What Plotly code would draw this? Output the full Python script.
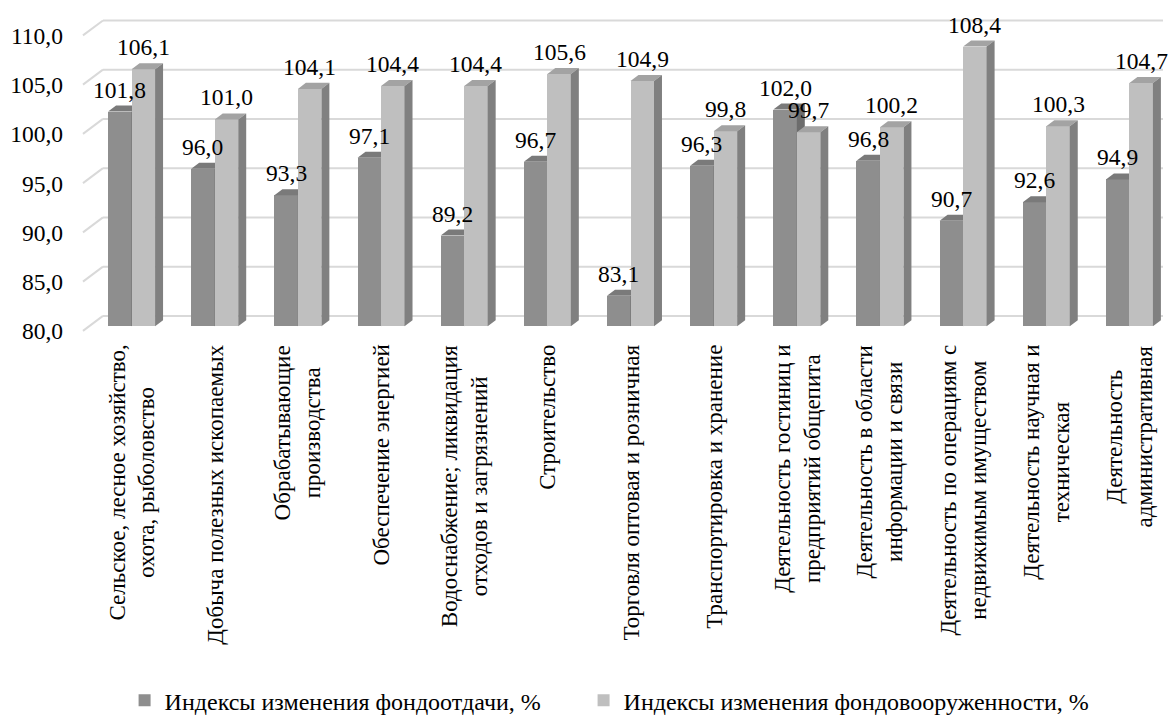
import plotly.graph_objects as go

categories = [
    ["Сельское, лесное хозяйство,", "охота, рыболовство"],
    ["Добыча полезных ископаемых"],
    ["Обрабатывающие", "производства"],
    ["Обеспечение энергией"],
    ["Водоснабжение; ликвидация", "отходов и загрязнений"],
    ["Строительство"],
    ["Торговля оптовая и розничная"],
    ["Транспортировка и хранение"],
    ["Деятельность гостиниц и", "предприятий общепита"],
    ["Деятельность в области", "информации и связи"],
    ["Деятельность по операциям с", "недвижимым имуществом"],
    ["Деятельность научная и", "техническая"],
    ["Деятельность", "административная"],
]
fondootdacha = [101.8, 96.0, 93.3, 97.1, 89.2, 96.7, 83.1, 96.3, 102.0, 96.8, 90.7, 92.6, 94.9]
fondovooruzh = [106.1, 101.0, 104.1, 104.4, 104.4, 105.6, 104.9, 99.8, 99.7, 100.2, 108.4, 100.3, 104.7]
series_names = ["Индексы изменения фондоотдачи, %", "Индексы изменения фондовооруженности, %"]
yticks = [80, 85, 90, 95, 100, 105, 110]

FONT = "Liberation Serif"
BASE = 80
W = 0.2826            # ширина передней грани столбца
DX, DY = 0.096, 0.61  # "глубина" для псевдо-3D

fig = go.Figure()
annotations = []


def add_series(vals, offset, name, front, top, side, xa, ya, lg):
    xs = list(range(len(vals)))
    fig.add_trace(go.Bar(x=xs, y=[v - BASE for v in vals], base=BASE, width=W, offset=offset,
                         marker=dict(color=front, line=dict(width=0)), name=name, legend=lg,
                         xaxis=xa, yaxis=ya, hoverinfo="skip"))
    tx, ty, sx, sy = [], [], [], []
    for i, v in zip(xs, vals):
        xl = i + offset
        xr = xl + W
        tx += [xl, xl + DX, xr + DX, xr, xl, None]
        ty += [v, v + DY, v + DY, v, v, None]
        sx += [xr, xr + DX, xr + DX, xr, xr, None]
        sy += [BASE, BASE + DY, v + DY, v, BASE, None]
        annotations.append(dict(x=i + offset + W / 2, y=v, xref=xa, yref=ya, yshift=22,
                                text=f"{v:.1f}".replace(".", ","), showarrow=False,
                                font=dict(size=23.5, color="black", family=FONT)))
    # верхняя и боковая грани
    for px_, py_, c in ((tx, ty, top), (sx, sy, side)):
        fig.add_trace(go.Scatter(x=px_, y=py_, mode="lines", fill="toself", fillcolor=c,
                                 line=dict(width=0), showlegend=False, hoverinfo="skip",
                                 xaxis=xa, yaxis=ya))


add_series(fondootdacha, -W, series_names[0], "#8e8e8e", "#7a7a7a", "#6c6c6c", "x", "y", "legend")
add_series(fondovooruzh, 0, series_names[1], "#bfbfbf", "#a3a3a3", "#808080", "x2", "y2", "legend2")

for i, lines in enumerate(categories):
    annotations.append(dict(x=i, y=0, xref="x", yref="paper", yanchor="top", yshift=-2,
                            text="<br>".join(lines), textangle=-90, align="center",
                            showarrow=False, font=dict(size=23, color="black", family=FONT)))

# сетка на задней стенке
shapes = []
for v in yticks:
    shapes.append(dict(type="line", xref="paper", yref="y", x0=-0.0065, x1=0.012,
                       y0=v - 0.47, y1=v + 1.05, line=dict(color="#d9d9d9", width=2), layer="below"))
    shapes.append(dict(type="line", xref="paper", yref="y", x0=0.012, x1=0.9926,
                       y0=v + 1.05, y1=v + 1.05, line=dict(color="#d9d9d9", width=2), layer="below"))

legend_style = dict(orientation="h", xref="paper", xanchor="left", yref="container", y=0.02,
                    yanchor="middle", font=dict(size=24, family=FONT), bgcolor="rgba(0,0,0,0)")

yr = [78.5, 111.5]
fig.update_layout(
    width=1174, height=715,
    margin=dict(l=90, r=3, t=16, b=374, autoexpand=False),
    paper_bgcolor="white", plot_bgcolor="white",
    separators=", ",
    font=dict(family=FONT, size=23.5, color="black"),
    xaxis=dict(range=[-0.5, 12.5], showticklabels=False, showgrid=False, zeroline=False,
               automargin=False),
    xaxis2=dict(range=[-0.5, 12.5], overlaying="x", visible=False),
    yaxis=dict(range=yr, tickvals=yticks, tickformat=".1f", showgrid=False, zeroline=False,
               ticks="", ticklabelshift=5, ticklabelstandoff=26, automargin=False),
    yaxis2=dict(range=yr, overlaying="y", visible=False),
    showlegend=True,
    legend=dict(x=0.032, **legend_style),
    legend2=dict(x=0.4566, **legend_style),
    shapes=shapes,
    annotations=annotations,
    bargap=0,
)

fig.write_html("out.html", config={"displayModeBar": False},
               post_script="document.body.style.margin='0';")
